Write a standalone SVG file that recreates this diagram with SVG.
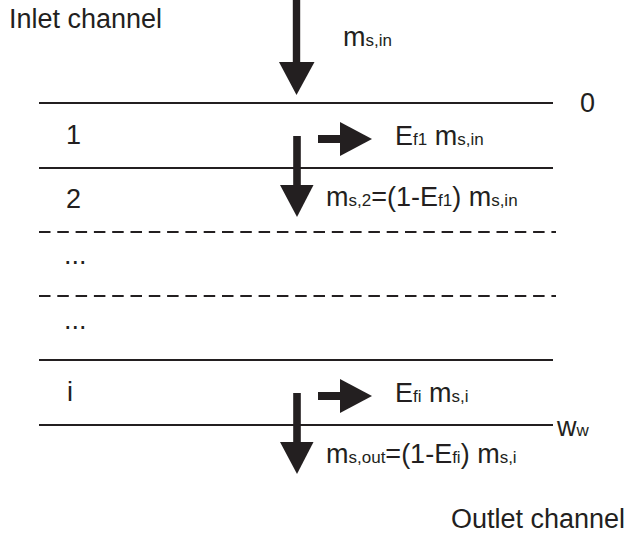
<svg xmlns="http://www.w3.org/2000/svg" width="624" height="538" viewBox="0 0 624 538">
<style>
text{font-family:"Liberation Sans",Arial,sans-serif;font-size:27px;fill:#231f20}
.s{font-size:17px}
.solid{stroke:#231f20;stroke-width:2.2;fill:none}
.dash{stroke:#231f20;stroke-width:2.2;fill:none;stroke-dasharray:11.5 6.8}
.ar{fill:#231f20;stroke:none}
</style>
<rect width="624" height="538" fill="#fff"/>
<g id="layers">
<line class="solid" x1="39" y1="103" x2="553" y2="103"/>
<line class="solid" x1="39" y1="168" x2="553" y2="168"/>
<line class="dash" x1="39" y1="232" x2="556" y2="232"/>
<line class="dash" x1="39" y1="296" x2="556" y2="296"/>
<line class="solid" x1="39" y1="360" x2="553" y2="360"/>
<line class="solid" x1="39" y1="425" x2="553" y2="425"/>
</g>
<g id="labels">
<text x="9" y="28">Inlet channel</text>
<text x="451" y="528">Outlet channel</text>
<text x="580" y="112">0</text>
<text x="557" y="436">w<tspan class="s">w</tspan></text>
<text x="66" y="144">1</text>
<text x="66" y="208">2</text>
<text x="64" y="264">...</text>
<text x="64" y="329">...</text>
<text x="67" y="401">i</text>
</g>
<g id="connectors">
<g id="arrow-in">
<rect class="ar" x="292.8" y="0" width="7.4" height="63"/>
<polygon class="ar" points="279,62 314.5,62 296.5,95"/>
<text x="343" y="46">m<tspan class="s">s,in</tspan></text>
</g>
<g id="arrow-ef1">
<rect class="ar" x="318" y="135" width="24" height="8"/>
<polygon class="ar" points="340,122 340,156 372,139"/>
<text x="395" y="145">E<tspan class="s">f1</tspan> m<tspan class="s">s,in</tspan></text>
</g>
<g id="arrow-ms2">
<rect class="ar" x="293.2" y="136" width="7.6" height="50"/>
<polygon class="ar" points="280,185 313.5,185 297,217"/>
<text x="326" y="206">m<tspan class="s">s,2</tspan>=(1-E<tspan class="s">f1</tspan>) m<tspan class="s">s,in</tspan></text>
</g>
<g id="arrow-efi">
<rect class="ar" x="318" y="392" width="24" height="8"/>
<polygon class="ar" points="340,379 340,413 372,396"/>
<text x="395" y="402">E<tspan class="s">fi</tspan> m<tspan class="s">s,i</tspan></text>
</g>
<g id="arrow-out">
<rect class="ar" x="293.2" y="393" width="7.6" height="50"/>
<polygon class="ar" points="280,442 313.5,442 297,474"/>
<text x="326" y="463">m<tspan class="s">s,out</tspan>=(1-E<tspan class="s">fi</tspan>) m<tspan class="s">s,i</tspan></text>
</g>
</g>
</svg>
